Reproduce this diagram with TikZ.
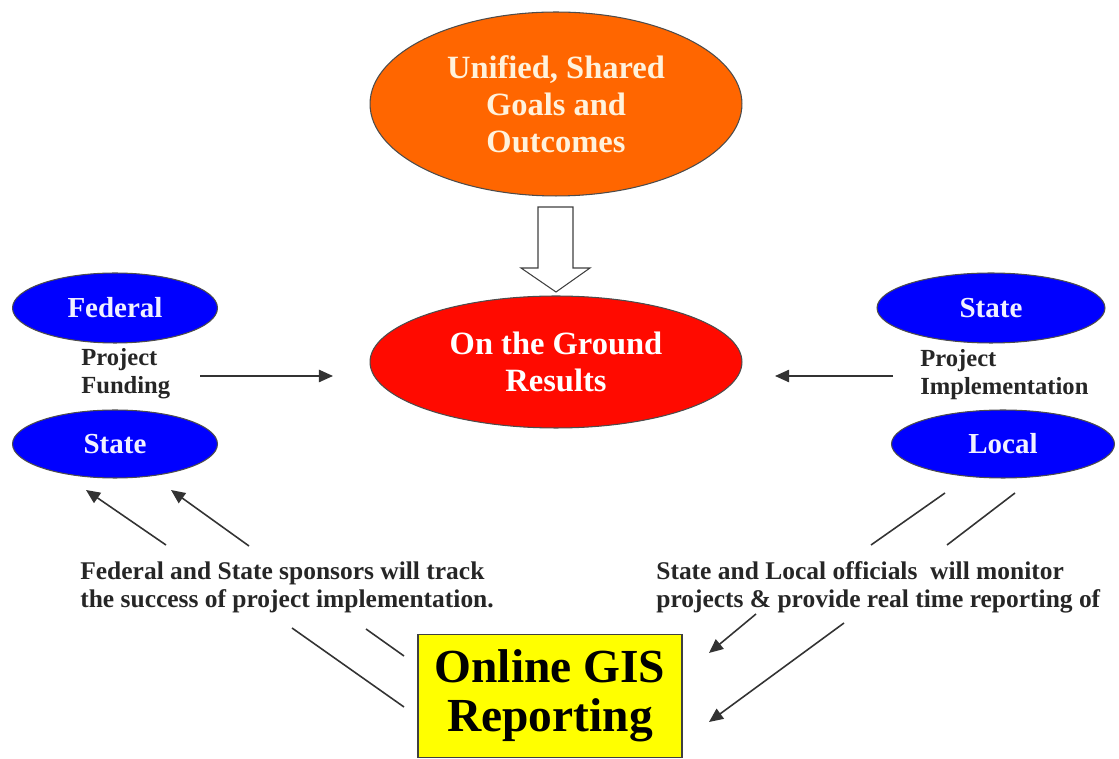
\documentclass[tikz,border=0pt]{standalone}
\usepackage{fontspec}
\setmainfont{Liberation Serif}
\usetikzlibrary{shapes.geometric,arrows.meta}
\definecolor{orangeF}{HTML}{FF6600}
\definecolor{redF}{HTML}{FF0A00}
\definecolor{blueF}{HTML}{0000FF}
\definecolor{yellowF}{HTML}{FFFF00}
\definecolor{creamT}{HTML}{FFF2DC}
\definecolor{paleT}{HTML}{F0F0FF}
\definecolor{lineC}{HTML}{333333}
\tikzset{
  x=0.02cm, y=-0.02cm,
  oval/.style={ellipse, draw=black!70, line width=0.6pt, inner sep=0pt, font=\bfseries},
  bigtext/.style={font=\fontsize{18.5}{21}\selectfont\bfseries, align=center},
  bluetext/.style={text=paleT, font=\fontsize{16.5}{18}\selectfont\bfseries},
  labeltext/.style={font=\fontsize{14}{16}\selectfont\bfseries, align=left, anchor=west, inner sep=0pt, text=black!85},
  smalltext/.style={font=\fontsize{14.5}{16}\selectfont\bfseries, align=left, anchor=west, inner sep=0pt, text=black!85},
  conn/.style={draw=lineC, line width=0.9pt},
  arr/.style={conn, -{Triangle[length=8pt, width=7pt]}},
}
\begin{document}
\begin{tikzpicture}
\useasboundingbox (0,0) rectangle (1119,759);
% Top goal ellipse
\node[oval, fill=orangeF, minimum width=7.44cm, minimum height=3.68cm, bigtext, text=creamT] (goals) at (556,104) {Unified, Shared\\Goals and\\Outcomes};
% Result ellipse
\node[oval, fill=redF, minimum width=7.44cm, minimum height=2.64cm, bigtext, text=white] (results) at (556,362) {On the Ground\\Results};
% hollow arrow between
\draw[draw=black!75, line width=0.6pt, fill=white] (538,207) -- (573,207) -- (573,268) -- (590,268) -- (556,292) -- (521,268) -- (538,268) -- cycle;
% Blue ellipses
\node[oval, fill=blueF, minimum width=4.1cm, minimum height=1.4cm, bluetext] (federal) at (115,308) {Federal};
\node[oval, fill=blueF, minimum width=4.1cm, minimum height=1.36cm, bluetext] (stateL) at (115,444) {State};
\node[oval, fill=blueF, minimum width=4.56cm, minimum height=1.4cm, bluetext] (stateR) at (991,308) {State};
\node[oval, fill=blueF, minimum width=4.46cm, minimum height=1.36cm, bluetext] (local) at (1003,444) {Local};
% Labels
\node[labeltext] (funding) at (81,374) {Project\\Funding};
\node[labeltext] (impl) at (920,375) {Project\\Implementation};
\node[smalltext] (track) at (80,587) {Federal and State sponsors will track\\the success of project implementation.};
\node[smalltext] (monitor) at (656,587) {State and Local officials\ \ will monitor\\projects \& provide real time reporting of};
% GIS box
\node[draw=black!75, line width=0.8pt, fill=yellowF, minimum width=5.28cm, minimum height=2.46cm, font=\fontsize{27}{28}\selectfont\bfseries, align=center] (gis) at (550,696) {Online GIS\\Reporting};
% Horizontal arrows
\coordinate (fa) at (200,376);
\coordinate (fb) at (333,376);
\draw[arr] (fa) -- (fb);
\coordinate (ia) at (893,376);
\coordinate (ib) at (775,376);
\draw[arr] (ia) -- (ib);
% Left upper arrows
\coordinate (l1s) at (166,545); \coordinate (l1e) at (86,490);
\coordinate (l2s) at (249,546); \coordinate (l2e) at (171,490);
\draw[arr] (l1s) -- (l1e);
\draw[arr] (l2s) -- (l2e);
% Left lower lines
\coordinate (l3s) at (292,628); \coordinate (l3e) at (404,707);
\coordinate (l4s) at (366,629); \coordinate (l4e) at (404,656);
\draw[conn] (l3s) -- (l3e);
\draw[conn] (l4s) -- (l4e);
% Right upper lines
\coordinate (r1s) at (945,493); \coordinate (r1e) at (871,545);
\coordinate (r2s) at (1015,493); \coordinate (r2e) at (947,545);
\draw[conn] (r1s) -- (r1e);
\draw[conn] (r2s) -- (r2e);
% Right lower arrows
\coordinate (r3s) at (756,614); \coordinate (r3e) at (709,653);
\coordinate (r4s) at (844,623); \coordinate (r4e) at (709,722);
\draw[arr] (r3s) -- (r3e);
\draw[arr] (r4s) -- (r4e);
\end{tikzpicture}
\end{document}
